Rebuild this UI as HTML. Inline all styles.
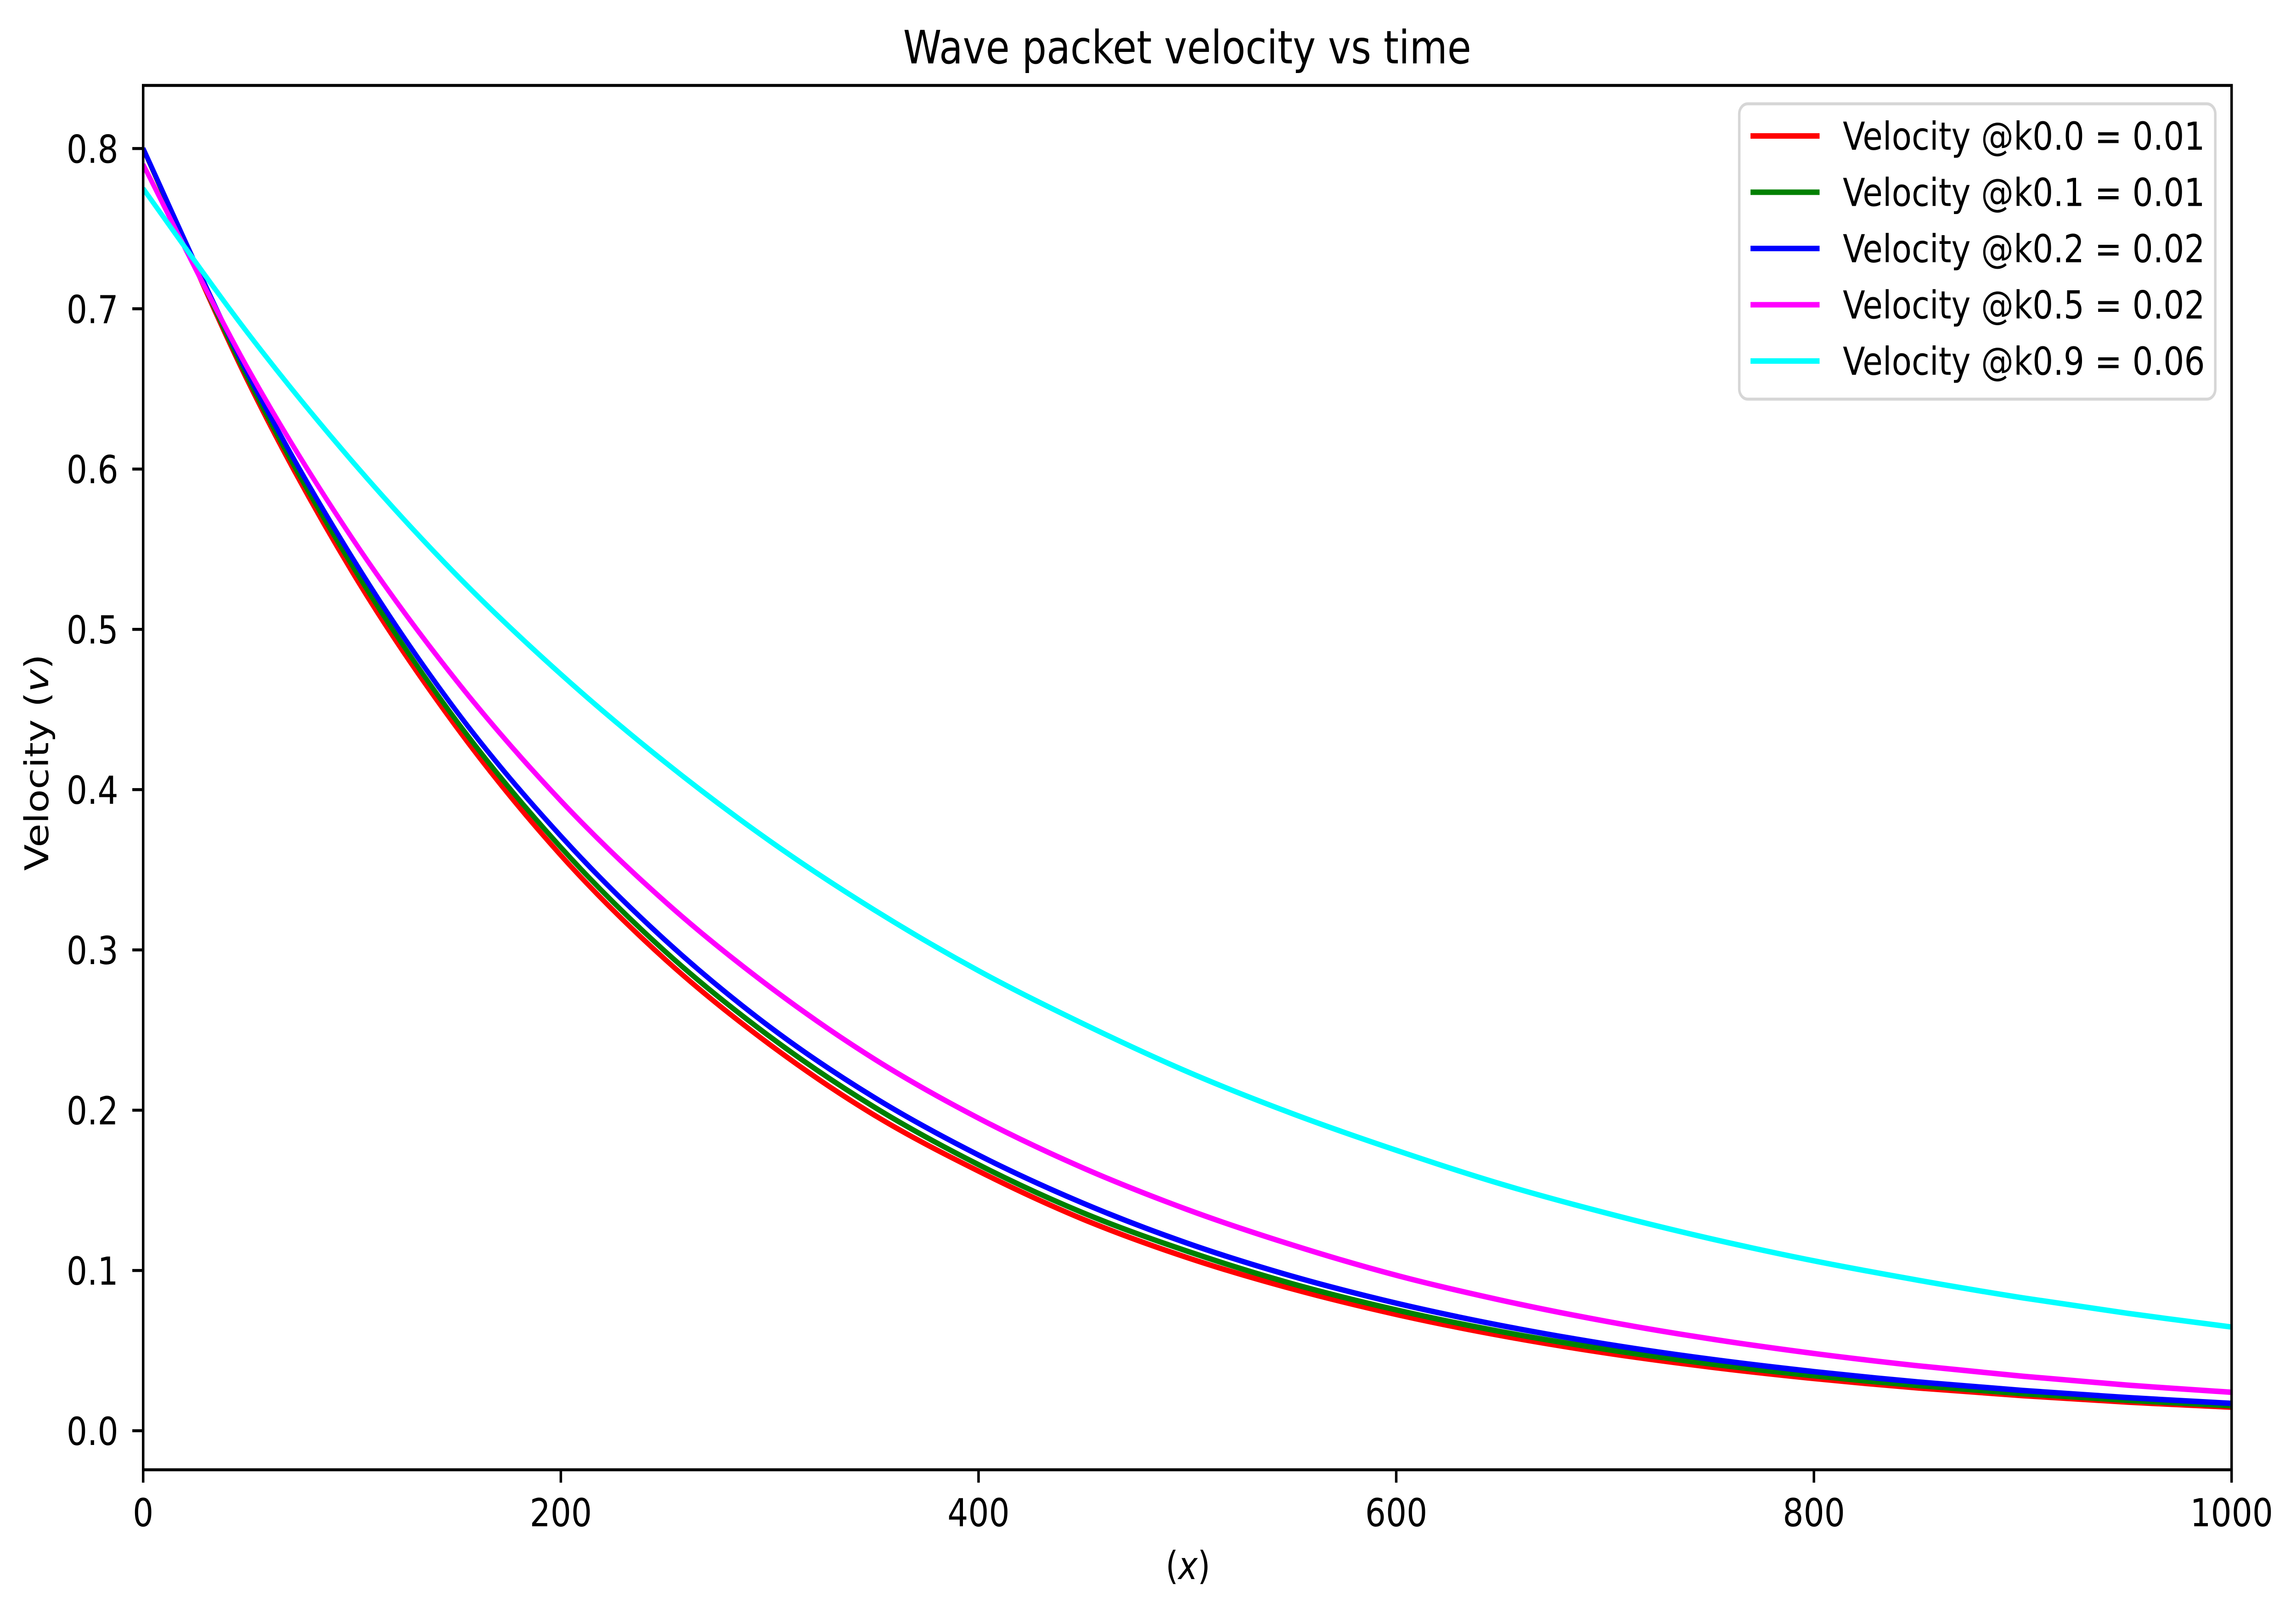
<!DOCTYPE html>
<html><head><meta charset="utf-8"><style>
html,body{margin:0;padding:0;background:#fff;width:100%;height:100%;overflow:hidden;}
svg{display:block;width:100vw;height:100vh;font-family:"DejaVu Sans","Liberation Sans",sans-serif;}
</style></head><body>
<svg id="chart" viewBox="0 0 5918 3514" preserveAspectRatio="none" xmlns="http://www.w3.org/2000/svg">
<rect width="5918" height="3514" fill="#fff"/>
<g id="plot"></g>
<g id="axes"></g>
<text x="3060" y="138" font-size="100" text-anchor="middle">Wave packet velocity vs time</text>
<text x="3062" y="3438" font-size="84" text-anchor="middle">(<tspan font-style="italic">x</tspan>)</text>
<text transform="translate(124,1660) rotate(-90)" font-size="84" text-anchor="middle">Velocity (<tspan font-style="italic">v</tspan>)</text>
<g id="legend"></g>
</svg>
<script>
const xValues = [0,50,100,150,200,250,300,350,400,450,500,550,600,650,700,750,800,850,900,950,1000];
const seriesK00 = [0.800,0.655,0.536,0.439,0.359,0.294,0.241,0.197,0.162,0.132,0.108,0.0886,0.0726,0.0594,0.0486,0.0398,0.0326,0.0267,0.0219,0.0179,0.0147];
const seriesK01 = [0.800,0.657,0.540,0.443,0.364,0.299,0.246,0.202,0.166,0.136,0.112,0.0918,0.0754,0.0619,0.0509,0.0418,0.0343,0.0282,0.0231,0.0190,0.0156];
const seriesK02 = [0.800,0.660,0.545,0.449,0.371,0.306,0.252,0.208,0.172,0.142,0.117,0.0965,0.0796,0.0657,0.0542,0.0447,0.0369,0.0304,0.0251,0.0207,0.0171];
const seriesK05 = [0.790,0.663,0.557,0.468,0.393,0.330,0.277,0.232,0.195,0.164,0.138,0.116,0.0970,0.0815,0.0684,0.0574,0.0482,0.0405,0.0340,0.0285,0.0240];
const seriesK09 = [0.775,0.685,0.605,0.534,0.472,0.417,0.368,0.325,0.287,0.254,0.224,0.198,0.175,0.154,0.136,0.120,0.106,0.0939,0.0829,0.0733,0.0647];
const seriesLabels = ["Velocity @k0.0 = 0.01","Velocity @k0.1 = 0.01","Velocity @k0.2 = 0.02","Velocity @k0.5 = 0.02","Velocity @k0.9 = 0.06"];
const seriesNames = ["k0-0","k0-1","k0-2","k0-5","k0-9"];
const xTicks = [0,200,400,600,800,1000];
const yTicks = [0.0,0.1,0.2,0.3,0.4,0.5,0.6,0.7,0.8];
const yTickLabels = ["0.0","0.1","0.2","0.3","0.4","0.5","0.6","0.7","0.8"];

const NS="http://www.w3.org/2000/svg";
const L=369,R=5752,T=186,B=3200;
const xMin=0,xMax=1000,yMin=-0.02435,yMax=0.83935;
function sx(v){return L+(v-xMin)/(xMax-xMin)*(R-L);}
function sy(v){return B-(v-yMin)/(yMax-yMin)*(B-T);}
function mk(tag,attrs,parent){const e=document.createElementNS(NS,tag);for(const k in attrs)e.setAttribute(k,attrs[k]);parent.appendChild(e);return e;}
function smoothPath(p){
  let d='M'+p[0][0].toFixed(1)+','+p[0][1].toFixed(1);
  for(let i=0;i<p.length-1;i++){
    const p0=p[Math.max(0,i-1)],p1=p[i],p2=p[i+1],p3=p[Math.min(p.length-1,i+2)];
    const c1x=p1[0]+(p2[0]-p0[0])/6,c1y=p1[1]+(p2[1]-p0[1])/6;
    const c2x=p2[0]-(p3[0]-p1[0])/6,c2y=p2[1]-(p3[1]-p1[1])/6;
    d+=' C'+c1x.toFixed(1)+','+c1y.toFixed(1)+' '+c2x.toFixed(1)+','+c2y.toFixed(1)+' '+p2[0].toFixed(1)+','+p2[1].toFixed(1);
  }
  return d;
}

const allSeries=[seriesK00,seriesK01,seriesK02,seriesK05,seriesK09];
const colors=["#ff0000","#008000","#0000ff","#ff00ff","#00ffff"];
const plot=document.getElementById('plot');
const clip=mk('clipPath',{id:'clipArea'},plot);
mk('rect',{x:L,y:T,width:R-L,height:B-T},clip);
allSeries.forEach((s,i)=>{
  const pts=s.map((v,j)=>[sx(xValues[j]),sy(v)]);
  const pl=mk('path',{d:smoothPath(pts),fill:'none',stroke:colors[i],'stroke-width':12,'stroke-linejoin':'round','clip-path':'url(#clipArea)'},plot);
  
  
});

const axes=document.getElementById('axes');
const frame=mk('rect',{x:L,y:T,width:R-L,height:B-T,fill:'none',stroke:'#000','stroke-width':6.5},axes);


xTicks.forEach(v=>{
  const x=sx(v);
  const t=mk('line',{x1:x,y1:B,x2:x,y2:B+28,stroke:'#000','stroke-width':6.5},axes);
  
  
  const lb=mk('text',{x:x,y:3323,'font-size':84,'text-anchor':'middle'},axes);
  lb.textContent=String(v);
  
  
});
yTicks.forEach((v,i)=>{
  const y=sy(v);
  const t=mk('line',{x1:L-28,y1:y,x2:L,y2:y,stroke:'#000','stroke-width':6.5},axes);
  
  
  const lb=mk('text',{x:305,y:y+31,'font-size':84,'text-anchor':'end'},axes);
  lb.textContent=yTickLabels[i];
  
  
});

const legend=document.getElementById('legend');
const box=mk('rect',{x:4483,y:226,width:1227,height:643,rx:22,fill:'#fff','fill-opacity':0.8,stroke:'#d6d6d6','stroke-width':6.5},legend);


seriesLabels.forEach((lab,i)=>{
  const y=296+i*122.5;
  const g=mk('g',{},legend);
  
  
  mk('line',{x1:4512,y1:y,x2:4690,y2:y,stroke:colors[i],'stroke-width':12},g);
  const tx=mk('text',{x:4750,y:y+30,'font-size':84},g);
  tx.textContent=lab;
});
</script>
</body></html>
